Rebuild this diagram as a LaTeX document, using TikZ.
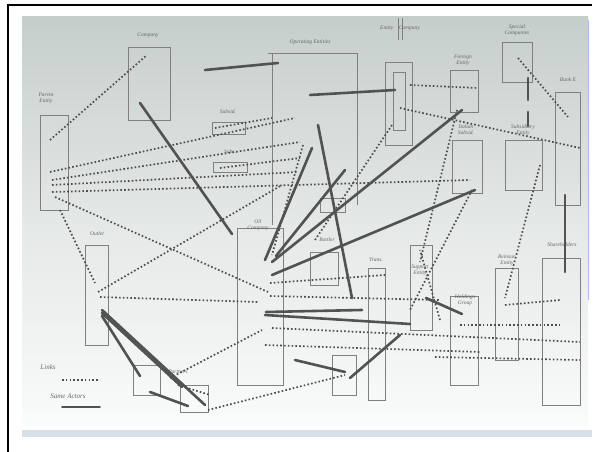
\documentclass[tikz,border=0pt]{standalone}
\usepackage{fontspec}
\setmainfont{Liberation Serif}
\definecolor{papertop}{RGB}{198,206,204}
\definecolor{papermid}{RGB}{228,232,231}
\definecolor{paperbot}{RGB}{250,251,251}
\definecolor{bandc}{RGB}{214,224,230}
\begin{document}
\begin{tikzpicture}[x=1pt,y=-1pt,
  box/.style={draw=black!50,line width=0.7pt},
  lbl/.style={text=black!60,font=\fontsize{5.5}{6}\selectfont\itshape,align=center,inner sep=0pt},
  link/.style={draw=black!70,line width=1.7pt,dash pattern=on 1.6pt off 2.2pt},
  same/.style={draw=black!68,line width=2.6pt,line cap=round}]
\useasboundingbox (0,0) rectangle (595,452);
\fill[white] (0,0) rectangle (595,452);
% paper
\shade[top color=papertop, bottom color=paperbot, middle color=papermid] (22,17) rectangle (588,425);
\fill[bandc] (22,430) rectangle (592,437);
\draw[black,line width=1.5pt] (8,452) -- (8,5) -- (592,5);
\draw[blue!30,line width=1pt] (588,20) -- (588,300);
% boxes
\draw[box] (40,115) rectangle (68,210);
\draw[box] (128,47) rectangle (170,120);
\draw[box] (268,53) -- (358,53) (272,53) -- (272,225) (357,53) -- (357,205);
\draw[box] (212,122) rectangle (245,134);
\draw[box] (213,162) rectangle (247,172);
\draw[box] (385,62) rectangle (412,145);
\draw[box] (393,72) rectangle (405,130);
\draw[box] (398,18) -- (398,40) (402,18) -- (402,40);
\draw[box] (450,70) rectangle (478,112);
\draw[box] (502,42) rectangle (532,82);
\draw[box] (555,92) rectangle (580,205);
\draw[box] (452,140) rectangle (482,193);
\draw[box] (505,140) rectangle (542,190);
\draw[box] (237,228) rectangle (283,385);
\draw[box] (85,245) rectangle (108,345);
\draw[box] (310,252) rectangle (338,285);
\draw[box] (320,198) rectangle (345,212);
\draw[box] (368,268) rectangle (385,400);
\draw[box] (410,245) rectangle (432,330);
\draw[box] (450,296) rectangle (478,385);
\draw[box] (495,268) rectangle (518,360);
\draw[box] (542,258) rectangle (580,405);
\draw[box] (332,355) rectangle (356,395);
\draw[box] (133,365) rectangle (160,395);
\draw[box] (180,385) rectangle (208,412);
% labels
\node[lbl] (l1) at (46,98) {Parent\\Entity};
\node[lbl] (l2) at (148,35) {Company};
\node[lbl] (l3) at (310,42) {Operating Entities};
\node[lbl] (l4) at (228,112) {Subsid.};
\node[lbl] (l5) at (230,152) {Subs.};
\node[lbl] (l6) at (400,28) {Entity\quad Company};
\node[lbl] (l7) at (463,60) {Foreign\\Entity};
\node[lbl] (l8) at (517,30) {Special\\Companies};
\node[lbl] (l9) at (568,80) {Bank E};
\node[lbl] (l10) at (466,130) {Italian\\Subsid.};
\node[lbl] (l11) at (523,130) {Subsidiary\\Entity};
\node[lbl] (l12) at (258,225) {Oil\\Company};
\node[lbl] (l13) at (97,234) {Outlet};
\node[lbl] (l14) at (327,240) {Bottler};
\node[lbl] (l15) at (376,260) {Trans.};
\node[lbl] (l16) at (420,270) {Support\\Entity};
\node[lbl] (l17) at (465,300) {Holdings\\Group};
\node[lbl] (l18) at (507,260) {Reinsur.\\Entity};
\node[lbl] (l19) at (562,245) {Shareholders};
\node[lbl] (l20) at (178,372) {Partners};
\node[lbl,font=\fontsize{7}{8}\selectfont\itshape] (lg1) at (48,367) {Links};
\node[lbl,font=\fontsize{7}{8}\selectfont\itshape] (lg2) at (68,396) {Same Actors};
\draw[link] (62,380) -- (100,380);
\draw[same,line width=1.8pt] (62,407) -- (100,407);
% dotted links
\draw[link] (50,140) -- (147,55);
\draw[link] (50,172) -- (295,118);
\draw[link] (52,185) -- (298,172);
\draw[link] (52,192) -- (470,180);
\draw[link] (52,180) -- (300,142);
\draw[link] (55,197) -- (268,292);
\draw[link] (60,210) -- (95,283);
\draw[link] (98,292) -- (282,185);
\draw[link] (100,297) -- (258,302);
\draw[link] (170,378) -- (262,330);
\draw[link] (208,410) -- (345,375);
\draw[link] (215,128) -- (272,118);
\draw[link] (220,168) -- (300,158);
\draw[link] (410,85) -- (478,88);
\draw[link] (400,108) -- (580,148);
\draw[link] (457,110) -- (420,262);
\draw[link] (472,190) -- (410,310);
\draw[link] (540,165) -- (505,298);
\draw[link] (303,145) -- (272,255);
\draw[link] (270,296) -- (440,300);
\draw[link] (272,328) -- (580,342);
\draw[link] (265,345) -- (480,352);
\draw[link] (435,357) -- (580,360);
\draw[link] (460,325) -- (562,325);
\draw[link] (505,305) -- (560,300);
\draw[link] (392,125) -- (315,240);
\draw[link] (440,320) -- (420,250);
\draw[link] (178,385) -- (210,395);
\draw[link] (270,283) -- (385,275);
\draw[link] (518,58) -- (568,117);
% thick links
\draw[same] (205,70) -- (278,63);
\draw[same] (310,95) -- (395,90);
\draw[same] (140,103) -- (232,234);
\draw[same] (265,260) -- (312,148);
\draw[same] (318,125) -- (352,298);
\draw[same] (272,262) -- (462,110);
\draw[same] (272,275) -- (475,190);
\draw[same] (276,256) -- (345,170);
\draw[same] (102,313) -- (182,387);
\draw[same] (102,310) -- (205,405);
\draw[same] (102,316) -- (140,376);
\draw[same] (150,392) -- (188,406);
\draw[same] (265,315) -- (410,324);
\draw[same] (266,312) -- (362,310);
\draw[same] (295,360) -- (345,372);
\draw[same] (350,378) -- (400,335);
\draw[same] (426,298) -- (462,314);
\draw[same] (565,195) -- (565,272);
\draw[same] (528,78) -- (528,100);
\draw[same] (528,112) -- (528,126);
\end{tikzpicture}
\end{document}
